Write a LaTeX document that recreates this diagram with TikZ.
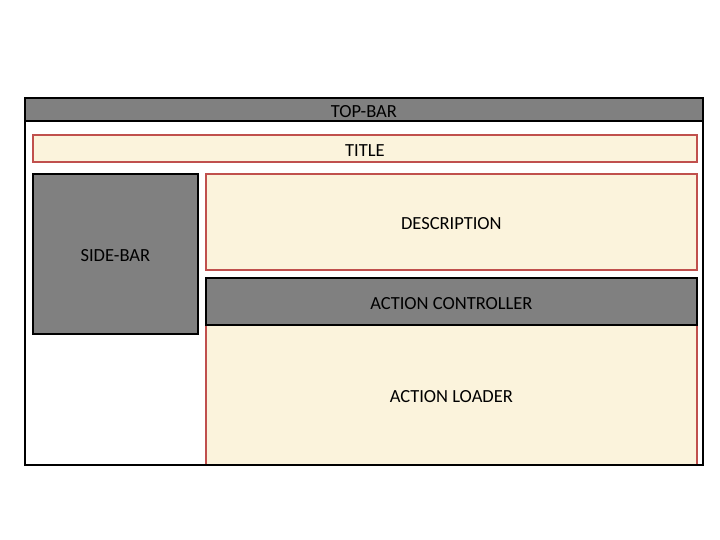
\documentclass[tikz,border=0pt]{standalone}
\usepackage{fontspec}
\setmainfont{Carlito}
\definecolor{panelgray}{HTML}{808080}
\definecolor{panelred}{HTML}{C0504D}
\definecolor{panelcream}{HTML}{FBF3DC}
\tikzset{
  block/.style={anchor=north west, inner sep=0pt, align=center, text height=16pt, text depth=0pt, font=\fontsize{18.5}{21}\selectfont},
  darkblock/.style={block, draw=black, line width=1.8pt, fill=panelgray},
  lightblock/.style={block, draw=panelred, line width=1.7pt, fill=panelcream},
  frame/.style={anchor=north west, inner sep=0pt, draw=black, line width=1.8pt}
}

\begin{document}
\begin{tikzpicture}[x=1pt,y=-1pt]
\useasboundingbox (0,0) rectangle (720,540);
\node[lightblock, minimum width=491pt, minimum height=140pt] (loader) at (205,324) {ACTION LOADER};
\node[lightblock, minimum width=491pt, minimum height=96pt] (desc) at (205,173) {DESCRIPTION};
\node[darkblock, minimum width=491pt, minimum height=47pt] (ctrl) at (205,277) {ACTION CONTROLLER};
\node[darkblock, minimum width=165pt, minimum height=160pt] (side) at (32,173) {SIDE-BAR};
\node[lightblock, minimum width=664pt, minimum height=27pt] (title) at (32,134) {TITLE};
\node[frame, minimum width=678pt, minimum height=367pt] (page) at (24,97) {};
\node[darkblock, minimum width=678pt, minimum height=23pt] (top) at (24,97) {TOP-BAR};
\end{tikzpicture}
\end{document}
